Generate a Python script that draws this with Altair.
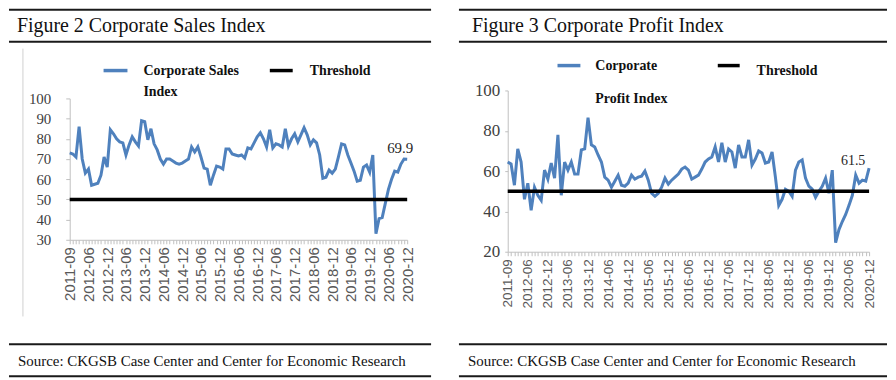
import altair as alt
import pandas as pd

tick_labels = ["2011-09", "2012-06", "2012-12", "2013-06", "2013-12", "2014-06",
               "2014-12", "2015-06", "2015-12", "2016-06", "2016-12", "2017-06",
               "2017-12", "2018-06", "2018-12", "2019-06", "2019-12", "2020-06",
               "2020-12"]

sales = [73, 72.5, 71, 86, 70, 63, 65, 57, 57.5, 58,
         62, 71, 66, 84.5, 82.5, 80, 78.5, 78, 72, 77,
         81, 78.5, 76.5, 89, 88.5, 79.5, 85, 77.5, 74.5, 70,
         67.5, 70, 70, 69, 68, 67.5, 68, 69, 70, 76,
         73.5, 76, 71, 65.5, 65, 57, 62, 66.5, 66, 65,
         75, 75, 72.5, 72, 71.5, 72, 70.5, 75.5, 75, 78,
         81, 83, 80, 76, 84.5, 75.5, 77.5, 77, 76, 85,
         76.5, 80, 82.5, 78.5, 82, 85.5, 82, 77, 79.5, 78,
         72, 60.5, 61, 64.5, 63, 65, 71, 77.5, 77, 72,
         68, 64, 59, 59.5, 66, 67, 63.5, 72, 33, 40.5,
         41, 48, 55, 60, 64, 63.5, 67.5, 70, 69.9]

profit = [64.5, 63.5, 53, 71, 64.5, 46, 54, 40.5, 52, 48,
          45.5, 60.5, 56, 64, 56.5, 78, 48, 64.5, 60.5, 64.5,
          58.5, 58.5, 70.5, 71, 86.5, 73, 72, 68, 64.5, 57,
          55.5, 52, 55, 58, 53, 52.5, 54, 58, 56, 57,
          57.5, 60, 55.5, 49, 47.5, 49, 52, 56.5, 53.5, 55.5,
          57, 58.5, 61, 62, 60.5, 56, 57, 58, 61, 64.5,
          66, 67, 72, 64.5, 74, 64.5, 71, 69.5, 61.5, 73,
          67, 67, 75.5, 63, 66, 70, 69, 64, 64.5, 69.5,
          57, 43, 46, 51, 50, 47.5, 60.5, 64.5, 65.5, 56.5,
          52.5, 51, 47, 50, 52.5, 56.5, 49, 60.5, 24.5, 31,
          35, 38.5, 43, 48, 58, 54, 55.5, 55, 61.5]

threshold = 50

sales_yticks = [30, 40, 50, 60, 70, 80, 90, 100]
profit_yticks = [20, 40, 60, 80, 100]

BLUE = "#4F81BD"
SERIF = "Liberation Serif"
SANS = "Liberation Sans"
SOURCE = "Source: CKGSB Case Center and Center for Economic Research"

label_js = "[" + ",".join("'%s'" % t for t in tick_labels) + "]"
label_expr = "datum.value % 6 == 0 ? " + label_js + "[datum.value / 6] : ''"

one = pd.DataFrame({"k": [0]})


def hrule(x1, x2, y, color="#1a1a1a", w=2):
    return alt.Chart(one).mark_rule(color=color, strokeWidth=w).encode(
        x=alt.value(x1), x2=alt.value(x2), y=alt.value(y))


def vrule(x, y1, y2, color="#D0D0D0", w=1):
    return alt.Chart(one).mark_rule(color=color, strokeWidth=w).encode(
        x=alt.value(x), y=alt.value(y1), y2=alt.value(y2))


def txt(s, x, y, size, weight="normal", color="#111111", baseline="alphabetic"):
    return alt.Chart(one).mark_text(
        align="left", baseline=baseline, font=SERIF, fontSize=size,
        fontWeight=weight, color=color).encode(
        x=alt.value(x), y=alt.value(y), text=alt.value(s))


def panel(values, ydom, yvals, yrange, W, H, ylab_size, ytick, ypad, xlab_size,
          last_dx, last_dy, last_size, deco):
    n = len(values)
    df = pd.DataFrame({"i": list(range(n)), "v": values})
    x = alt.X("i:Q",
              scale=alt.Scale(domain=[0, n - 1], nice=False, zero=False),
              axis=alt.Axis(values=list(range(n)), labelExpr=label_expr,
                            labelAngle=-90, labelOverlap=False, labelFlush=False,
                            labelFont=SANS, labelFontSize=xlab_size,
                            labelColor="#595959", domainColor="#BFBFBF",
                            tickColor="#BFBFBF", tickSize=4, labelPadding=3,
                            grid=False, title=None))
    y = alt.Y("v:Q",
              scale=alt.Scale(domain=ydom, range=yrange, nice=False, zero=False),
              axis=alt.Axis(values=yvals, labelFont=SERIF, labelFontSize=ylab_size,
                            labelOverlap=False, labelFlush=False,
                            labelColor="#404040", domainColor="#BFBFBF",
                            tickColor="#BFBFBF", tickSize=ytick, labelPadding=ypad,
                            grid=False, title=None))
    line = alt.Chart(df).mark_line(color=BLUE, strokeWidth=3).encode(x=x, y=y)
    thr = alt.Chart(pd.DataFrame({"v": [threshold]})).mark_rule(
        color="black", strokeWidth=3.5).encode(
        x=alt.value(0), x2=alt.value(W), y=y)
    lab = alt.Chart(df).transform_filter(alt.datum.i == n - 1).mark_text(
        dx=last_dx, dy=last_dy, font=SERIF, fontSize=last_size, color="#262626"
    ).encode(x=x, y=y, text=alt.Text("v:Q", format=".1f"))
    return alt.layer(line, thr, lab, *deco).properties(width=W, height=H)


left_deco = [
    hrule(-61, 363, -81),
    txt("Figure 2 Corporate Sales Index", -53, -58.5, 20),
    hrule(-61, 363, -49),
    hrule(34, 58, -20, BLUE, 3.5),
    txt("Corporate Sales", 74, -20, 14, "bold", baseline="middle"),
    txt("Index", 74, 2, 14, "bold", baseline="middle"),
    hrule(201, 224, -20, "black", 3.5),
    txt("Threshold", 241, -20, 14, "bold", baseline="middle"),
    vrule(-47, -42, 227),
    hrule(-61, 363, 255),
    txt(SOURCE, -52, 277, 15),
    hrule(-61, 363, 287),
]

right_deco = [
    hrule(-49, 381, -81),
    txt("Figure 3 Corporate Profit Index", -36, -58.5, 20),
    hrule(-49, 381, -49),
    hrule(50, 73, -25, BLUE, 3.5),
    txt("Corporate", 88, -25, 14, "bold", baseline="middle"),
    txt("Profit Index", 88, 9, 14, "bold", baseline="middle"),
    hrule(211, 233, -25, "black", 3.5),
    txt("Threshold", 250, -20, 14, "bold", baseline="middle"),
    hrule(-49, 381, 255),
    txt(SOURCE, -40, 277, 15),
    hrule(-49, 381, 287),
]

left = panel(sales, [30, 100], sales_yticks, [150, 8], 339, 150, 15, 4, 15, 15,
             -7, -11, 15, left_deco)
right = panel(profit, [20, 100], profit_yticks, [162, 0], 363, 162, 17, 3, 5, 13.5,
              -16, -7, 14, right_deco)

chart = alt.hconcat(left, right, spacing=26).properties(
    padding=0, background="white"
).configure_view(strokeWidth=0).configure_axisY(
    labelFont=SERIF
).configure_axisX(labelFont=SANS)

chart.save("out.html", embed_options={"renderer": "svg", "actions": False})
